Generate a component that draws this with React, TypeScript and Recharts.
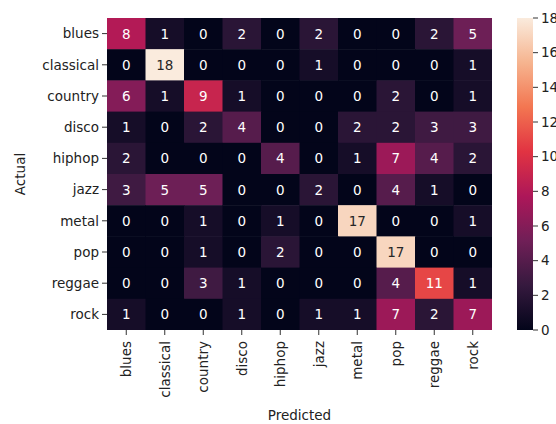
import React from "react";
import { ScatterChart, Scatter, XAxis, YAxis, BarChart, Bar } from "recharts";

const genres = ["blues", "classical", "country", "disco", "hiphop", "jazz", "metal", "pop", "reggae", "rock"];

// rows = actual, columns = predicted
const bluesRow = [8, 1, 0, 2, 0, 2, 0, 0, 2, 5];
const classicalRow = [0, 18, 0, 0, 0, 1, 0, 0, 0, 1];
const countryRow = [6, 1, 9, 1, 0, 0, 0, 2, 0, 1];
const discoRow = [1, 0, 2, 4, 0, 0, 2, 2, 3, 3];
const hiphopRow = [2, 0, 0, 0, 4, 0, 1, 7, 4, 2];
const jazzRow = [3, 5, 5, 0, 0, 2, 0, 4, 1, 0];
const metalRow = [0, 0, 1, 0, 1, 0, 17, 0, 0, 1];
const popRow = [0, 0, 1, 0, 2, 0, 0, 17, 0, 0];
const reggaeRow = [0, 0, 3, 1, 0, 0, 0, 4, 11, 1];
const rockRow = [1, 0, 0, 1, 0, 1, 1, 7, 2, 7];

const rows = [bluesRow, classicalRow, countryRow, discoRow, hiphopRow, jazzRow, metalRow, popRow, reggaeRow, rockRow];

const colorTicks = [0, 2, 4, 6, 8, 10, 12, 14, 16, 18];
const vmax = 18;

// seaborn "rocket"
const rocket: [number, string][] = [
  [0, "#03051A"],
  [1 / 7, "#35193E"],
  [2 / 7, "#701F57"],
  [3 / 7, "#AD1759"],
  [4 / 7, "#E13342"],
  [5 / 7, "#F37651"],
  [6 / 7, "#F6B48F"],
  [1, "#FAEBDD"],
];

const hex = (c: string) => [1, 3, 5].map((i) => parseInt(c.slice(i, i + 2), 16));

function rocketColor(t: number) {
  t = Math.max(0, Math.min(1, t));
  for (let i = 1; i < rocket.length; i++) {
    const [t1, c1] = rocket[i];
    const [t0, c0] = rocket[i - 1];
    if (t <= t1) {
      const f = (t - t0) / (t1 - t0);
      const a = hex(c0);
      const b = hex(c1);
      const m = a.map((v, k) => Math.round(v + (b[k] - v) * f));
      return `rgb(${m[0]},${m[1]},${m[2]})`;
    }
  }
  return rocket[rocket.length - 1][1];
}

const cells = rows.flatMap((row, i) => row.map((v, j) => ({ x: j + 0.5, y: i + 0.5, v })));
const centers = genres.map((_, i) => i + 0.5);

const W = 556;
const H = 424;
const margin = { top: 18, right: 64, bottom: 0, left: 7 };
const yAxisW = 100;
const xAxisH = 94;
const cellW = (W - margin.left - margin.right - yAxisW) / genres.length;
const cellH = (H - margin.top - margin.bottom - xAxisH) / genres.length;
const font = "DejaVu Sans, sans-serif";
const fs = 13.5;

function CellShape(props: any) {
  const { cx, cy, payload } = props;
  const dark = payload.v / vmax > 0.75;
  return (
    <g>
      <rect x={cx - cellW / 2} y={cy - cellH / 2} width={cellW + 0.5} height={cellH + 0.5} fill={rocketColor(payload.v / vmax)} />
      <text x={cx} y={cy} textAnchor="middle" dominantBaseline="central" fontSize={fs} fontFamily={font} fill={dark ? "#262626" : "#ffffff"}>
        {payload.v}
      </text>
    </g>
  );
}

function XTick(props: any) {
  const { x, y, payload } = props;
  return (
    <text x={x} y={y + 4} transform={`rotate(-90, ${x}, ${y + 4})`} textAnchor="end" dominantBaseline="central" fontSize={fs} fontFamily={font} fill="#222">
      {genres[Math.floor(payload.value)]}
    </text>
  );
}

export default function App() {
  return (
    <div style={{ position: "absolute", left: 0, top: 0, width: W, height: H, overflow: "hidden", background: "#fff" }}>
      <ScatterChart width={W} height={H} margin={margin}>
        <XAxis
          type="number"
          dataKey="x"
          domain={[0, 10]}
          ticks={centers}
          tick={<XTick />}
          tickSize={5}
          axisLine={false}
          tickLine={{ stroke: "#333" }}
          height={xAxisH}
          interval={0}
          allowDataOverflow
        />
        <YAxis
          type="number"
          dataKey="y"
          domain={[0, 10]}
          reversed
          ticks={centers}
          tickFormatter={(v: number) => genres[Math.floor(v)]}
          tick={{ fontSize: fs, fontFamily: font, fill: "#222" }}
          tickSize={5}
          tickMargin={3}
          axisLine={false}
          tickLine={{ stroke: "#333" }}
          width={yAxisW}
          interval={0}
          allowDataOverflow
        />
        <Scatter data={cells} shape={<CellShape />} isAnimationActive={false} />
      </ScatterChart>

      <div style={{ position: "absolute", left: 517, top: 0 }}>
        <BarChart width={60} height={H} data={[{ name: "cbar", v: vmax }]} margin={{ top: 18, right: 0, bottom: 94, left: 0 }} barCategoryGap={0}>
          <defs>
            <linearGradient id="rocketGrad" x1="0" y1="1" x2="0" y2="0">
              {rocket.map(([o, c]) => (
                <stop key={o} offset={o} stopColor={c} />
              ))}
            </linearGradient>
          </defs>
          <XAxis dataKey="name" hide />
          <YAxis
            orientation="right"
            type="number"
            domain={[0, vmax]}
            ticks={colorTicks}
            tick={{ fontSize: fs, fontFamily: font, fill: "#222" }}
            tickSize={5}
            tickMargin={3}
            axisLine={false}
            tickLine={{ stroke: "#333" }}
            width={44}
            interval={0}
          />
          <Bar dataKey="v" fill="url(#rocketGrad)" isAnimationActive={false} />
        </BarChart>
      </div>

      <svg width={W} height={H} style={{ position: "absolute", left: 0, top: 0, pointerEvents: "none" }}>
        <text x={20} y={174} transform="rotate(-90, 20, 174)" textAnchor="middle" dominantBaseline="central" fontSize={fs} fontFamily={font} fill="#222">
          Actual
        </text>
        <text x={299.5} y={415} textAnchor="middle" dominantBaseline="central" fontSize={fs} fontFamily={font} fill="#222">
          Predicted
        </text>
      </svg>
    </div>
  );
}
